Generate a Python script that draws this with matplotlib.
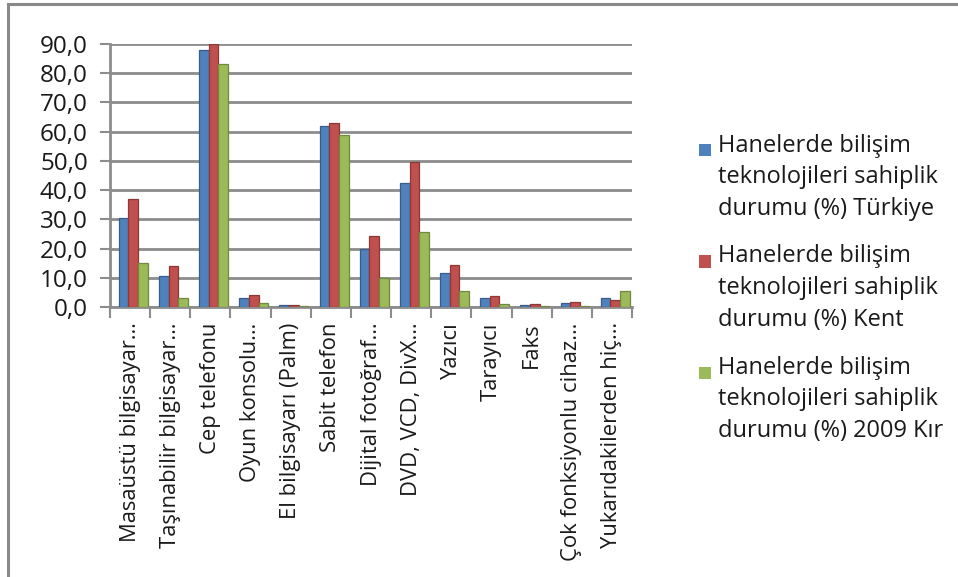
import numpy as np
import matplotlib
matplotlib.use('Agg')
import matplotlib.pyplot as plt
from matplotlib.lines import Line2D
from matplotlib.patches import Rectangle

# categories (truncated as in the source chart)
categories = ['Masaüstü bilgisayar…', 'Taşınabilir bilgisayar…', 'Cep telefonu',
              'Oyun konsolu…', 'El bilgisayarı (Palm)', 'Sabit telefon',
              'Dijital fotoğraf…', 'DVD, VCD, DivX…', 'Yazıcı', 'Tarayıcı',
              'Faks', 'Çok fonksiyonlu cihaz…', 'Yukarıdakilerden hiç…']

turkiye = [30.5, 10.5, 88.0, 3.0, 0.6, 61.8, 20.0, 42.3, 11.8, 3.0, 0.6, 1.2, 3.0]
kent    = [37.0, 14.0, 90.0, 4.0, 0.7, 63.0, 24.2, 49.5, 14.5, 3.7, 1.0, 1.6, 2.3]
kir     = [15.0,  3.0, 83.0, 1.2, 0.3, 58.8,  9.8, 25.5,  5.5, 1.0, 0.3, 0.4, 5.6]

series_names = ['Hanelerde bilişim\nteknolojileri sahiplik\ndurumu (%) Türkiye',
                'Hanelerde bilişim\nteknolojileri sahiplik\ndurumu (%) Kent',
                'Hanelerde bilişim\nteknolojileri sahiplik\ndurumu (%) 2009 Kır']
yticks = [0, 10, 20, 30, 40, 50, 60, 70, 80, 90]

colors = ['#4F81BD', '#C0504D', '#9BBB59']
edges = ['#385D8A', '#8C3836', '#71893F']

plt.rcParams['font.family'] = ['Open Sans', 'DejaVu Sans']
txt = '#1a1a1a'

W, H = 958, 577
fig = plt.figure(figsize=(W/100, H/100), dpi=100)
# frame: only the left and top edges show in the source image
fig.add_artist(Line2D([8/W, 8/W], [0, 1-4/H], color='#8a8a8a', linewidth=2.2))
fig.add_artist(Line2D([8/W, 1], [1-4/H, 1-4/H], color='#8a8a8a', linewidth=2.2))

ax = fig.add_axes([110/W, (H-307)/H, (632-110)/W, (307-44)/H])
x = np.arange(len(categories))
w = 0.24
for i, vals in enumerate([turkiye, kent, kir]):
    ax.bar(x + (i-1)*w + 0.08, vals, w, color=colors[i], edgecolor=edges[i], linewidth=0.9,
           zorder=3)

ax.set_xlim(-0.5, len(categories)-0.5)
ax.set_ylim(0, 90)
ax.set_yticks(yticks)
ax.yaxis.set_major_formatter(plt.FuncFormatter(lambda v, p: ('%.1f' % v).replace('.', ',')))
ax.tick_params(axis='y', labelsize=17.5, length=7, color='#8c8c8c', width=1.5, pad=9,
               labelcolor=txt)
ax.grid(axis='y', color='#8c8c8c', linewidth=2, zorder=0)
ax.set_xticks(x)
ax.set_xticklabels(categories, rotation=90, fontsize=15.8)
ax.set_xticks(np.arange(len(categories)+1) - 0.5, minor=True)
ax.tick_params(axis='x', which='major', length=0, pad=11, labelcolor=txt)
ax.tick_params(axis='x', which='minor', length=8, color='#8c8c8c', width=1.5)
for s in ['top', 'right']:
    ax.spines[s].set_visible(False)
for s in ['left', 'bottom']:
    ax.spines[s].set_color('#8c8c8c')
    ax.spines[s].set_linewidth(2)

# legend: square marker beside the first line of each wrapped entry
for i, name in enumerate(series_names):
    yc = 150.5 + 111*i
    fig.patches.append(Rectangle((699/W, 1-(yc+6)/H), 12/W, 12/H, transform=fig.transFigure,
                                 facecolor=colors[i], edgecolor='none'))
    fig.text(718/W, 1-(yc-17)/H, name, fontsize=17, color=txt, va='top', ha='left',
             linespacing=1.42)

fig.savefig('out.png', dpi=100)
